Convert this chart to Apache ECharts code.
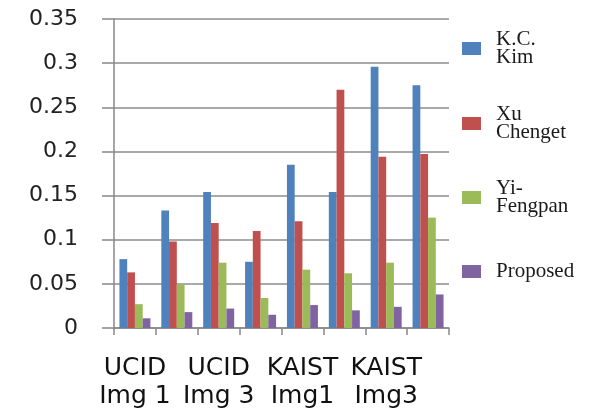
<!DOCTYPE html>
<html>
<head>
<meta charset="utf-8">
<script src="https://cdn.jsdelivr.net/npm/echarts@6/dist/echarts.min.js"></script>
<style>html,body{margin:0;padding:0;background:#fff;}#c{width:598px;height:411px;}</style>
</head>
<body>
<div id="c"></div>
<script>
var categories = ['UCID\nImg 1', 'UCID\nImg 2', 'UCID\nImg 3', 'UCID\nImg 4', 'KAIST\nImg1', 'KAIST\nImg2', 'KAIST\nImg3', 'KAIST\nImg4'];
var seriesNames = ['K.C. Kim', 'Xu Chenget', 'Yi-Fengpan', 'Proposed'];
var legendLabels = ['K.C.\nKim', 'Xu\nChenget', 'Yi-\nFengpan', 'Proposed'];
var kcKim = [0.078, 0.133, 0.154, 0.075, 0.185, 0.154, 0.296, 0.275];
var xuChenget = [0.063, 0.098, 0.119, 0.110, 0.121, 0.270, 0.194, 0.197];
var yiFengpan = [0.027, 0.049, 0.074, 0.034, 0.066, 0.062, 0.074, 0.125];
var proposed = [0.011, 0.018, 0.022, 0.015, 0.026, 0.020, 0.024, 0.038];
var yTicks = [0, 0.05, 0.1, 0.15, 0.2, 0.25, 0.3, 0.35];

var colors = ['#4F81BD', '#C0504D', '#9BBB59', '#8064A2'];
var allData = [kcKim, xuChenget, yiFengpan, proposed];
var legendTops = [24, 99, 173, 256];

var chart = echarts.init(document.getElementById('c'), null, {renderer: 'canvas'});
var legends = seriesNames.map(function (n, i) {
  return {
    orient: 'vertical',
    left: 457,
    top: legendTops[i],
    itemWidth: 19,
    itemHeight: 13,
    icon: 'rect',
    data: [n],
    formatter: function () { return legendLabels[i]; },
    textStyle: {fontFamily: 'Liberation Serif', fontSize: 21, color: '#1a1a1a', lineHeight: 18, padding: [0, 0, 0, 10]}
  };
});
var series = seriesNames.map(function (n, i) {
  return {
    name: n,
    type: 'bar',
    data: allData[i],
    barGap: '0%',
    barCategoryGap: '26%',
    itemStyle: {color: colors[i]}
  };
});
chart.setOption({
  animation: false,
  color: colors,
  grid: {left: 114, top: 19, right: 149, bottom: 83, containLabel: false},
  legend: legends,
  xAxis: {
    type: 'category',
    data: categories,
    boundaryGap: true,
    axisLine: {show: true, lineStyle: {color: '#888', width: 1.5}},
    axisTick: {show: true, interval: 0, length: 7, lineStyle: {color: '#888', width: 1.5}},
    axisLabel: {interval: 1, margin: 26, fontFamily: 'DejaVu Sans', fontSize: 25, lineHeight: 28, color: '#111'}
  },
  yAxis: {
    type: 'value',
    min: yTicks[0],
    max: yTicks[yTicks.length - 1],
    interval: 0.05,
    axisLine: {show: true, lineStyle: {color: '#888', width: 1.5}},
    axisTick: {show: true, length: 12, lineStyle: {color: '#888', width: 1.5}},
    splitLine: {show: true, lineStyle: {color: '#8c8c8c', width: 1.5}},
    axisLabel: {margin: 36, fontFamily: 'DejaVu Sans', fontSize: 22, color: '#222'}
  },
  series: series
});
</script>
</body>
</html>
